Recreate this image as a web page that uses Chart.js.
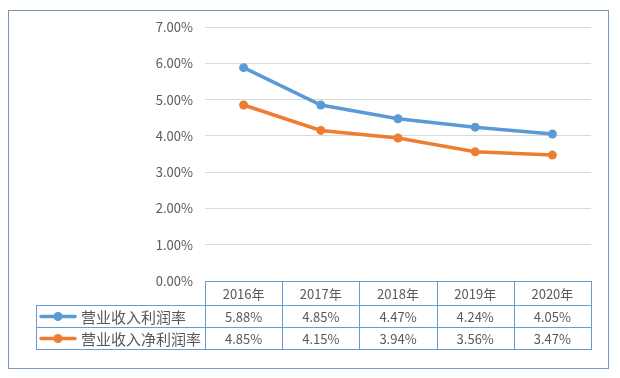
<!DOCTYPE html>
<html>
<head>
<meta charset="utf-8">
<script src="https://cdn.jsdelivr.net/npm/chart.js@4/dist/chart.umd.min.js"></script>
<style>
html,body{margin:0;padding:0;background:#fff;}
canvas{display:block;}
</style>
</head>
<body>
<canvas id="c" width="620" height="378"></canvas>
<script>
const categories = ['2016年', '2017年', '2018年', '2019年', '2020年'];
const seriesNames = ['营业收入利润率', '营业收入净利润率'];
const profitRate = [5.88, 4.85, 4.47, 4.24, 4.05];
const netProfitRate = [4.85, 4.15, 3.94, 3.56, 3.47];
const profitLabels = ['5.88%', '4.85%', '4.47%', '4.24%', '4.05%'];
const netProfitLabels = ['4.85%', '4.15%', '3.94%', '3.56%', '3.47%'];
const colors = ['#5B9BD5', '#ED7D31'];

const FONT = '"Noto Sans CJK SC", "Noto Sans", sans-serif';
const TEXT = '#595959';
const TABLE_LINE = '#6A9BD0';

const tablePlugin = {
  id: 'dataTable',
  afterDraw(chart) {
    const ctx = chart.ctx;
    const ca = chart.chartArea;
    const xs = chart.scales.x;
    const n = categories.length;
    const bounds = [ca.left];
    for (let i = 1; i < n; i++) {
      bounds.push((xs.getPixelForValue(i - 1) + xs.getPixelForValue(i)) / 2);
    }
    bounds.push(ca.right);
    const top = Math.round(ca.bottom);
    const r1 = top + 24, r2 = top + 46, r3 = top + 68;
    const legLeft = 36;
    ctx.save();
    ctx.strokeStyle = TABLE_LINE;
    ctx.lineWidth = 1;
    ctx.beginPath();
    ctx.moveTo(ca.left, top + 0.5); ctx.lineTo(ca.right, top + 0.5);
    [r1, r2, r3].forEach(y => { ctx.moveTo(legLeft, y + 0.5); ctx.lineTo(ca.right, y + 0.5); });
    bounds.forEach(x => { const px = Math.round(x) + 0.5; ctx.moveTo(px, top); ctx.lineTo(px, r3 + 1); });
    ctx.moveTo(legLeft + 0.5, r1); ctx.lineTo(legLeft + 0.5, r3 + 1);
    ctx.stroke();

    ctx.fillStyle = TEXT;
    ctx.textAlign = 'center';
    ctx.textBaseline = 'middle';
    ctx.font = '13px ' + FONT;
    const rowsText = [profitLabels, netProfitLabels];
    for (let i = 0; i < n; i++) {
      const cx = xs.getPixelForValue(i);
      ctx.fillText(categories[i], cx, (top + r1) / 2 + 1);
      ctx.fillText(rowsText[0][i], cx, (r1 + r2) / 2 + 1);
      ctx.fillText(rowsText[1][i], cx, (r2 + r3) / 2 + 1);
    }
    // legend keys
    const rowMid = [(r1 + r2) / 2, (r2 + r3) / 2];
    for (let s = 0; s < 2; s++) {
      const y = rowMid[s] + 0.5;
      ctx.strokeStyle = colors[s];
      ctx.lineWidth = 3.5;
      ctx.lineCap = 'round';
      ctx.beginPath();
      ctx.moveTo(41, y); ctx.lineTo(75, y);
      ctx.stroke();
      ctx.fillStyle = colors[s];
      ctx.beginPath();
      ctx.arc(58, y, 4.5, 0, Math.PI * 2);
      ctx.fill();
      ctx.fillStyle = TEXT;
      ctx.textAlign = 'left';
      ctx.font = '15px ' + FONT;
      ctx.fillText(seriesNames[s], 81, rowMid[s] + 1);
    }
    // outer border
    ctx.strokeStyle = '#7A98B8';
    ctx.lineWidth = 1;
    ctx.strokeRect(8.5, 10.5, 600, 358);
    ctx.restore();
  }
};

new Chart(document.getElementById('c'), {
  type: 'line',
  data: {
    labels: categories,
    datasets: [
      { label: seriesNames[0], data: profitRate, borderColor: colors[0], backgroundColor: colors[0],
        borderWidth: 3.5, pointRadius: 4.5, pointBackgroundColor: colors[0], pointBorderWidth: 0, tension: 0 },
      { label: seriesNames[1], data: netProfitRate, borderColor: colors[1], backgroundColor: colors[1],
        borderWidth: 3.5, pointRadius: 4.5, pointBackgroundColor: colors[1], pointBorderWidth: 0, tension: 0 }
    ]
  },
  options: {
    responsive: false,
    animation: false,
    layout: { padding: { top: 27, bottom: 97, right: 29, left: 0 } },
    plugins: { legend: { display: false }, tooltip: { enabled: false } },
    scales: {
      x: { display: false, offset: true },
      y: {
        min: 0, max: 7,
        afterFit(s) { s.width = 205; },
        border: { display: false },
        grid: { color: '#D9D9D9', drawTicks: false, lineWidth: 1 },
        ticks: {
          stepSize: 1, padding: 12, color: TEXT,
          font: { family: FONT, size: 13 },
          callback: v => v.toFixed(2) + '%'
        }
      }
    }
  },
  plugins: [tablePlugin]
});
</script>
</body>
</html>
